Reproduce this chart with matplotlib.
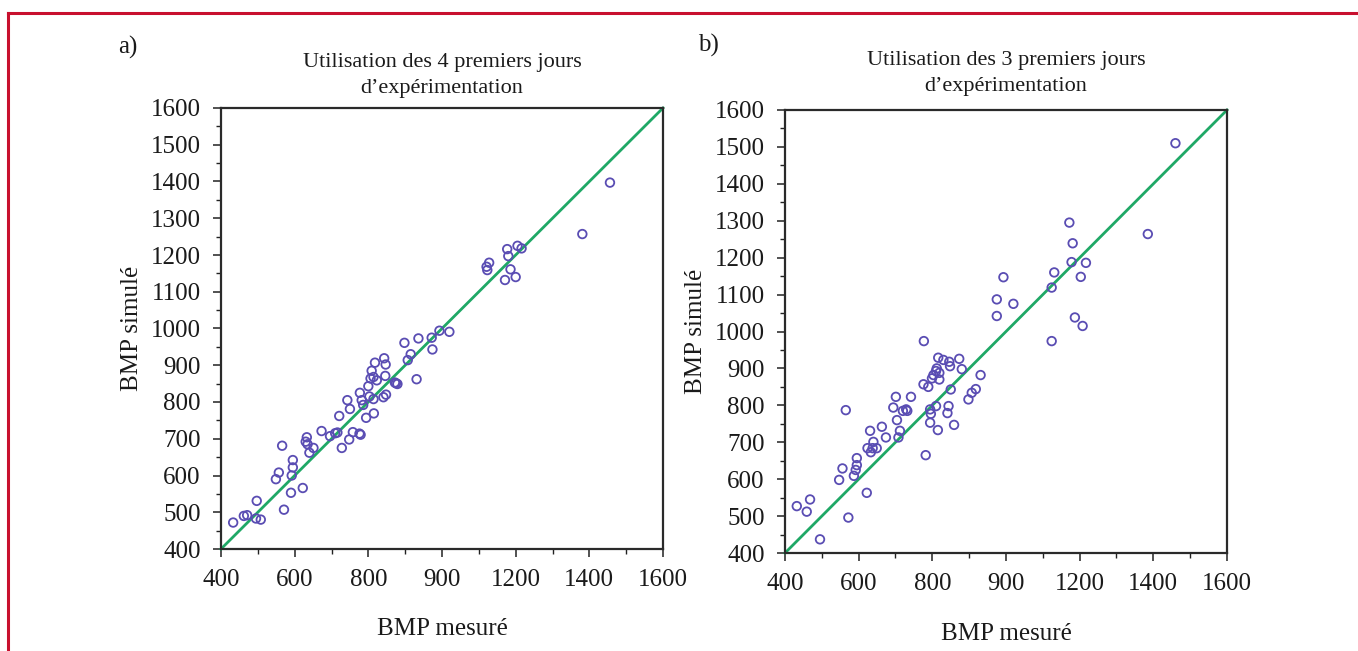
import matplotlib
matplotlib.use("Agg")
import matplotlib.pyplot as plt
from matplotlib.ticker import FixedLocator, FixedFormatter, MultipleLocator
from matplotlib.lines import Line2D

# ---------------- data ----------------
# Panel a) : 4 first days
a_measured = [433, 462, 471, 497, 495, 508, 549, 557, 566, 571, 595, 595, 592, 590,
              622, 630, 633, 635, 640, 651, 673, 696, 710, 716, 721, 728, 743, 750,
              748, 758, 776, 779, 777, 782, 786, 794, 803, 814, 815, 800, 806, 809,
              814, 818, 823, 843, 847, 846, 841, 848, 875, 872, 879, 907, 915, 931,
              898, 936, 972, 974, 993, 1020, 1121, 1123, 1128, 1171, 1177, 1180,
              1186, 1200, 1205, 1216, 1381, 1456]
a_simulated = [472, 490, 492, 531, 483, 480, 590, 608, 681, 507, 642, 622, 600, 553,
               566, 692, 704, 685, 662, 675, 721, 707, 715, 717, 762, 675, 805, 781,
               698, 718, 714, 711, 825, 805, 792, 757, 815, 808, 769, 843, 864, 885,
               868, 907, 859, 919, 902, 871, 813, 820, 851, 853, 849, 914, 930, 862,
               961, 973, 975, 943, 994, 991, 1168, 1159, 1179, 1132, 1216, 1197,
               1161, 1140, 1225, 1218, 1257, 1397]

# Panel b) : 3 first days
b_measured = [432, 459, 468, 495, 547, 556, 565, 572, 587, 592, 595, 595, 622, 624,
              631, 633, 640, 638, 649, 663, 674, 701, 694, 704, 708, 712, 720, 729,
              732, 742, 777, 782, 776, 789, 794, 796, 794, 799, 803, 810, 812, 816,
              819, 819, 810, 815, 830, 846, 848, 873, 880, 850, 844, 841, 859, 898,
              907, 918, 931, 975, 975, 993, 1020, 1124, 1124, 1131, 1172, 1178, 1181,
              1187, 1203, 1208, 1217, 1385, 1460]
b_simulated = [527, 512, 545, 437, 598, 629, 787, 496, 609, 625, 638, 657, 563, 684,
               731, 673, 701, 684, 684, 742, 713, 823, 794, 760, 713, 731, 785, 789,
               785, 823, 974, 665, 857, 850, 789, 777, 753, 873, 882, 893, 900, 929,
               888, 870, 798, 733, 923, 918, 906, 926, 898, 843, 798, 779, 747, 816,
               834, 844, 882, 1042, 1087, 1147, 1075, 974, 1119, 1160, 1295, 1188,
               1239, 1038, 1148, 1015, 1186, 1264, 1510]

axis_range = [400, 1600]
x_ticks = [400, 600, 800, 1000, 1200, 1400, 1600]
x_tick_labels = ["400", "600", "800", "900", "1200", "1400", "1600"]
y_ticks = list(range(400, 1601, 100))

titles = ["Utilisation des 4 premiers jours\nd\u2019exp\u00e9rimentation",
          "Utilisation des 3 premiers jours\nd\u2019exp\u00e9rimentation"]
panel_letters = ["a)", "b)"]
x_label = "BMP mesur\u00e9"
y_label = "BMP simul\u00e9"

# ---------------- style ----------------
plt.rcParams['font.family'] = ['Liberation Serif', 'DejaVu Serif']
W, H = 1358, 651
fig = plt.figure(figsize=(W / 100, H / 100), dpi=100)
fig.patch.set_facecolor('white')

point_color = '#5a4db3'
line_color = '#1fa866'

boxes = [(221, 108, 663, 549), (785, 110, 1227, 553)]
letter_pos = [(118, 47), (698, 45)]
title_pads = [11, 14]
xlabel_pads = [19, 20]

for i, (xs, ys) in enumerate([(a_measured, a_simulated), (b_measured, b_simulated)]):
    l, t, r, b = boxes[i]
    ax = fig.add_axes([l / W, 1 - b / H, (r - l) / W, (b - t) / H])
    ax.plot(axis_range, axis_range, color=line_color, lw=2.0, zorder=2, clip_on=False)
    ax.scatter(xs, ys, s=38, facecolors='none', edgecolors=point_color,
               linewidths=1.3, zorder=3)
    ax.set_xlim(axis_range)
    ax.set_ylim(axis_range)
    ax.xaxis.set_major_locator(FixedLocator(x_ticks))
    ax.xaxis.set_major_formatter(FixedFormatter(x_tick_labels))
    ax.xaxis.set_minor_locator(MultipleLocator(100))
    ax.yaxis.set_major_locator(FixedLocator(y_ticks))
    ax.yaxis.set_minor_locator(MultipleLocator(50))
    ax.tick_params(which='major', direction='out', length=5.5, width=1.1,
                   labelsize=18, colors='#222222', labelcolor='#1a1a1a')
    ax.tick_params(axis='x', which='major', pad=9)
    ax.tick_params(axis='y', which='major', pad=9)
    ax.tick_params(which='minor', direction='out', length=3.5, width=1.0,
                   colors='#222222')
    for s in ax.spines.values():
        s.set_linewidth(1.6)
        s.set_color('#2a2a2a')
    ax.set_title(titles[i], fontsize=16, linespacing=1.45, pad=title_pads[i],
                 color='#1a1a1a')
    ax.set_xlabel(x_label, fontsize=18, labelpad=xlabel_pads[i], color='#1a1a1a')
    ax.set_ylabel(y_label, fontsize=18, labelpad=6, color='#1a1a1a')
    fig.text(letter_pos[i][0] / W, 1 - letter_pos[i][1] / H, panel_letters[i],
             fontsize=18, ha='left', va='center', color='#1a1a1a')

# red frame
frame_color = '#c8102e'
fig.add_artist(Line2D([8 / W, 8 / W], [0, 1 - 13 / H], transform=fig.transFigure,
                      color=frame_color, lw=2.2))
fig.add_artist(Line2D([8 / W, 1], [1 - 13 / H, 1 - 13 / H], transform=fig.transFigure,
                      color=frame_color, lw=2.2))

fig.savefig("out.png", dpi=100)
